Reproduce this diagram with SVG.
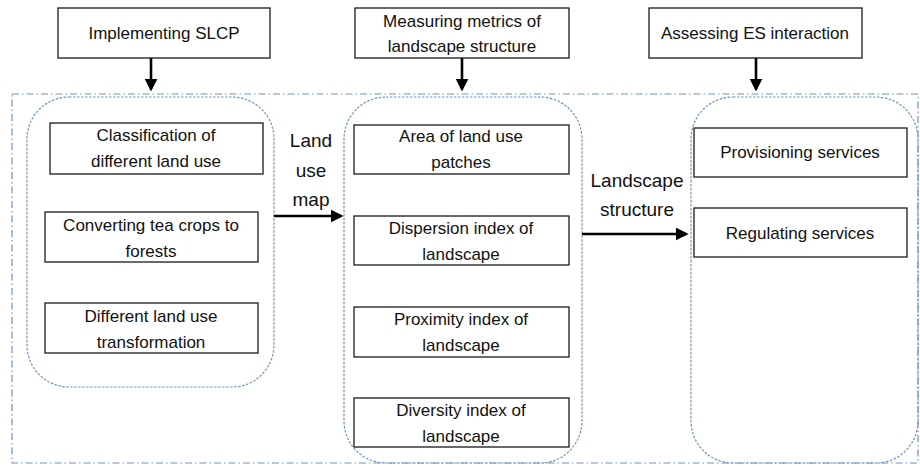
<svg xmlns="http://www.w3.org/2000/svg" width="920" height="466" viewBox="0 0 920 466">
<style>
.box{fill:#fff;stroke:#1a1a1a;stroke-width:1.3}
.grp{fill:none;stroke:#6f93bd;stroke-width:1.2;stroke-dasharray:2.5,1.5}
.outer{fill:none;stroke:#6f93bd;stroke-width:1.2;stroke-dasharray:7,3,1.5,3}
.t{font-family:"Liberation Sans",Arial,sans-serif;font-size:17px;fill:#111;text-anchor:middle}
.lbl{font-family:"Liberation Sans",Arial,sans-serif;font-size:19px;fill:#111;text-anchor:middle}
.arr{stroke:#000;stroke-width:2.6;fill:none;marker-end:url(#ah)}
</style>
<defs>
<marker id="ah" markerWidth="5" markerHeight="5" refX="4" refY="2.5" orient="auto" markerUnits="strokeWidth">
<path d="M0,0 L5,2.5 L0,5 Z" fill="#000"/>
</marker>
</defs>
<rect width="920" height="466" fill="#fff"/>
<rect class="outer" x="12" y="94" width="906" height="369"/>
<g id="grp-left"><rect class="grp" x="27" y="97" width="247" height="290" rx="42"/></g>
<g id="grp-mid"><rect class="grp" x="344" y="97" width="238" height="366" rx="42"/></g>
<g id="grp-right"><rect class="grp" x="691" y="97" width="227" height="366" rx="42"/></g>

<g id="connectors">
<line class="arr" x1="151" y1="58" x2="151" y2="89"/>
<line class="arr" x1="462" y1="58" x2="462" y2="89"/>
<line class="arr" x1="756" y1="58" x2="756" y2="89"/>
<line class="arr" x1="274" y1="216" x2="341" y2="216"/>
<line class="arr" x1="582" y1="234" x2="686" y2="234"/>
</g>

<g id="implementing"><rect class="box" x="58" y="8" width="212" height="50"/><text class="t" x="164" y="39">Implementing SLCP</text></g>
<g id="measuring"><rect class="box" x="355" y="8" width="214" height="50"/><text class="t" x="462" y="27">Measuring metrics of</text><text class="t" x="462" y="52">landscape structure</text></g>
<g id="assessing"><rect class="box" x="649" y="8" width="213" height="50"/><text class="t" x="755" y="39">Assessing ES interaction</text></g>

<g id="classification"><rect class="box" x="50" y="123" width="213" height="51"/><text class="t" x="156" y="141">Classification of</text><text class="t" x="156" y="167">different land use</text></g>
<g id="converting"><rect class="box" x="45" y="212" width="213" height="50"/><text class="t" x="151" y="231">Converting tea crops to</text><text class="t" x="151" y="257">forests</text></g>
<g id="different"><rect class="box" x="45" y="303" width="213" height="50"/><text class="t" x="151" y="322">Different land use</text><text class="t" x="151" y="348">transformation</text></g>

<g id="landusemap-label"><text class="lbl" x="311" y="147">Land</text><text class="lbl" x="311" y="177">use</text><text class="lbl" x="311" y="206">map</text></g>

<g id="area"><rect class="box" x="354" y="125" width="215" height="49"/><text class="t" x="461" y="142">Area of land use</text><text class="t" x="461" y="168">patches</text></g>
<g id="dispersion"><rect class="box" x="354" y="216" width="215" height="49"/><text class="t" x="461" y="234">Dispersion index of</text><text class="t" x="461" y="260">landscape</text></g>
<g id="proximity"><rect class="box" x="354" y="307" width="215" height="50"/><text class="t" x="461" y="325">Proximity index of</text><text class="t" x="461" y="351">landscape</text></g>
<g id="diversity"><rect class="box" x="354" y="398" width="215" height="49"/><text class="t" x="461" y="416">Diversity index of</text><text class="t" x="461" y="442">landscape</text></g>

<g id="landscape-label"><text class="lbl" x="637" y="187">Landscape</text><text class="lbl" x="637" y="216">structure</text></g>

<g id="provisioning"><rect class="box" x="694" y="128" width="213" height="49"/><text class="t" x="800" y="158">Provisioning services</text></g>
<g id="regulating"><rect class="box" x="694" y="208" width="213" height="49"/><text class="t" x="800" y="239">Regulating services</text></g>
</svg>
